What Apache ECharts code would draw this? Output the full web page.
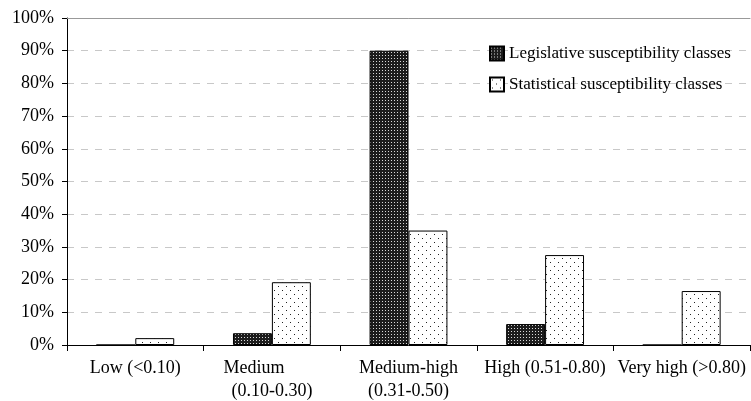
<!DOCTYPE html>
<html>
<head>
<meta charset="utf-8">
<script src="https://cdn.jsdelivr.net/npm/echarts@6/dist/echarts.min.js"></script>
<style>html,body{margin:0;padding:0;background:#fff}#c{width:751px;height:401px}</style>
</head>
<body>
<div id="c"></div>
<script>
const categories = ['Low (<0.10)', 'Medium\n(0.10-0.30)', 'Medium-high\n(0.31-0.50)', 'High (0.51-0.80)', 'Very high (>0.80)'];
const legislative = [0, 3.6, 90, 6.4, 0];
const statistical = [2.1, 19.2, 35, 27.5, 16.5];
const seriesNames = ['Legislative susceptibility classes', 'Statistical susceptibility classes'];

function darkPattern() {
  const c = document.createElement('canvas'); c.width = 3; c.height = 3;
  const x = c.getContext('2d');
  x.fillStyle = '#1c1c1c'; x.fillRect(0, 0, 3, 3);
  x.fillStyle = '#d8d8d8'; x.fillRect(1, 1, 1, 1);
  return { image: c, repeat: 'repeat' };
}
function dotPattern() {
  const c = document.createElement('canvas'); c.width = 8; c.height = 8;
  const x = c.getContext('2d');
  x.fillStyle = '#ffffff'; x.fillRect(0, 0, 8, 8);
  x.fillStyle = '#222'; x.fillRect(2, 2, 1, 1); x.fillRect(6, 6, 1, 1);
  return { image: c, repeat: 'repeat' };
}
const font = 'Liberation Serif';
const chart = echarts.init(document.getElementById('c'), null, { renderer: 'canvas' });
chart.setOption({
  animation: false,
  textStyle: { fontFamily: font, color: '#000' },
  grid: { left: 67, right: 1, top: 18, bottom: 56, containLabel: false, outerBoundsMode: 'none' },
  legend: {
    orient: 'vertical', left: 484, top: 40,
    icon: 'rect', itemWidth: 14, itemHeight: 14, itemGap: 14,
    textStyle: { fontFamily: font, fontSize: 17, color: '#000' },
    data: seriesNames
  },
  xAxis: [{
    type: 'category', data: categories,
    axisLine: { lineStyle: { color: '#000', width: 1 } },
    axisTick: { show: true, length: 6, lineStyle: { color: '#000' } },
    axisLabel: {
      interval: 0, margin: 12, fontFamily: font, fontSize: 18, color: '#000', lineHeight: 23,
      formatter: function (v) {
        if (v.indexOf('Medium\n') === 0) { const p = v.split('\n'); return '{m|' + p[0] + '}\n' + p[1]; }
        return v;
      },
      rich: { m: { fontFamily: font, fontSize: 18, color: '#000', lineHeight: 23, padding: [0, 36, 0, 0] } }
    }
  }, {
    type: 'category', data: categories, position: 'top',
    axisLine: { lineStyle: { color: '#999', width: 1 } },
    axisTick: { show: false }, axisLabel: { show: false }
  }],
  yAxis: {
    type: 'value', min: 0, max: 100, interval: 10,
    axisLine: { show: true, lineStyle: { color: '#000' } },
    axisTick: { show: true, length: 5, lineStyle: { color: '#000' } },
    axisLabel: { formatter: '{value}%', margin: 13, fontFamily: font, fontSize: 18, color: '#000' },
    splitLine: { show: true, lineStyle: { color: '#c8c8c8', type: [7, 7] } }
  },
  series: [{
    name: seriesNames[0], type: 'bar', data: legislative,
    barGap: '0%', barCategoryGap: '43%',
    itemStyle: { color: darkPattern(), borderColor: '#000', borderWidth: 1 }
  }, {
    name: seriesNames[1], type: 'bar', data: statistical,
    itemStyle: { color: dotPattern(), borderColor: '#000', borderWidth: 1 }
  }]
});
</script>
</body>
</html>
